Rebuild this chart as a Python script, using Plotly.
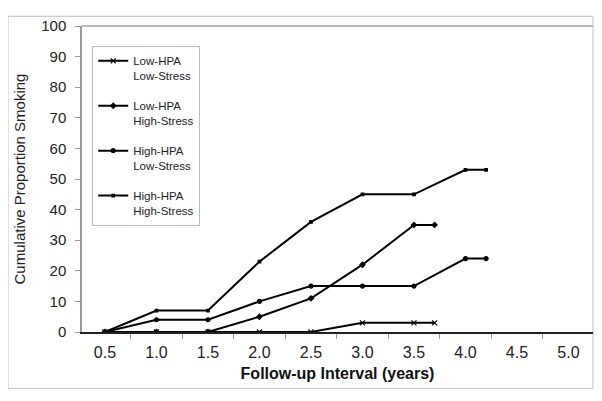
import plotly.graph_objects as go

x_low = [0.5, 1.0, 1.5, 2.0, 2.5, 3.0, 3.5, 3.7]
x_high = [0.5, 1.0, 1.5, 2.0, 2.5, 3.0, 3.5, 4.0, 4.2]
low_hpa_low_stress = [0, 0, 0, 0, 0, 3, 3, 3]
low_hpa_high_stress = [0, 0, 0, 5, 11, 22, 35, 35]
high_hpa_low_stress = [0, 4, 4, 10, 15, 15, 15, 24, 24]
high_hpa_high_stress = [0, 7, 7, 23, 36, 45, 45, 53, 53]
x_ticks = [0.5, 1.0, 1.5, 2.0, 2.5, 3.0, 3.5, 4.0, 4.5, 5.0]
y_ticks = [0, 10, 20, 30, 40, 50, 60, 70, 80, 90, 100]

series = [
    ("Low-HPA<br>Low-Stress", x_low, low_hpa_low_stress, "x-thin", 5),
    ("Low-HPA<br>High-Stress", x_low, low_hpa_high_stress, "diamond", 4),
    ("High-HPA<br>Low-Stress", x_high, high_hpa_low_stress, "circle", 4),
    ("High-HPA<br>High-Stress", x_high, high_hpa_high_stress, "square", 2.5),
]

fig = go.Figure()
for i, (name, xs, ys, sym, sz) in enumerate(series):
    fig.add_trace(go.Scatter(
        x=xs, y=ys, name=name, mode="lines+markers", legendgroup=f"g{i}",
        line=dict(color="black", width=2),
        marker=dict(symbol=sym, size=sz, color="black",
                    line=dict(color="black", width=1.2)),
    ))

# chart frame (outer border) and plot-area top edge
fig.add_shape(type="rect", xref="paper", yref="paper",
              x0=-0.1448, x1=1.0, y0=-0.184, y1=1.0317,
              line=dict(color="#c0c0c0", width=1), layer="below")
fig.add_shape(type="line", xref="paper", yref="paper",
              x0=0, x1=1, y0=1, y1=1,
              line=dict(color="#a0a0a0", width=1.5), layer="below")

font = "Liberation Sans, Arial, sans-serif"
fig.update_layout(
    width=602, height=401,
    margin=dict(l=74, r=17, t=9, b=77),
    paper_bgcolor="white", plot_bgcolor="white",
    font=dict(family=font, size=14, color="#222"),
    showlegend=True,
    legend=dict(
        x=0.02, y=0.935, xanchor="left", yanchor="top",
        bordercolor="#bbbbbb", borderwidth=1, bgcolor="white",
        font=dict(size=11.5, color="#222"), valign="top",
        tracegroupgap=12, itemwidth=30,
    ),
    xaxis=dict(
        range=[0.277, 5.238], tickvals=x_ticks,
        ticktext=[f"{v:.1f}" for v in x_ticks],
        ticks="", showgrid=False, zeroline=False,
        showline=True, linecolor="#222", linewidth=1.5,
        ticklabelstandoff=5,
        minor=dict(tick0=0.25, dtick=0.5, ticks="outside", ticklen=5,
                   tickcolor="#999", showgrid=False),
        title=dict(text="<b>Follow-up Interval (years)</b>",
                   font=dict(size=16, color="#111"), standoff=8),
        tickfont=dict(size=16),
    ),
    yaxis=dict(
        range=[0, 100], tickvals=y_ticks, showgrid=False, zeroline=False,
        showline=True, linecolor="#999", linewidth=1.5,
        ticks="outside", ticklen=5, tickcolor="#999",
        ticklabelstandoff=6,
        title=dict(text="Cumulative Proportion Smoking",
                   font=dict(size=15, color="#222"), standoff=12),
        tickfont=dict(size=15),
    ),
)

fig.write_html("out.html")
